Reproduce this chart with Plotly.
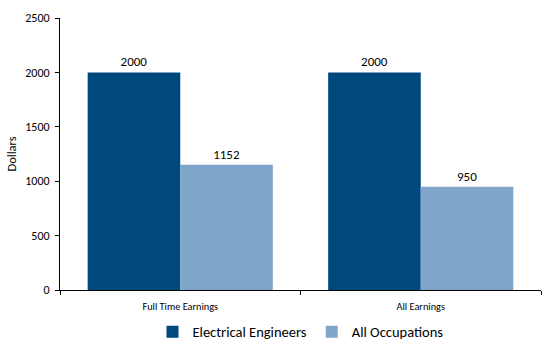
import plotly.graph_objects as go

categories = ["Full Time Earnings", "All Earnings"]
electrical_engineers = [2000, 2000]
all_occupations = [1152, 950]
y_ticks = [0, 500, 1000, 1500, 2000, 2500]

font_family = "Carlito, Calibri, 'Liberation Sans', Arial, sans-serif"

fig = go.Figure()
fig.add_trace(go.Bar(
    x=categories, y=electrical_engineers, name="Electrical Engineers",
    marker=dict(color="#00497E", line=dict(width=0)),
    text=[str(v) for v in electrical_engineers], textposition="outside",
    textfont=dict(size=13, color="#000000", family=font_family), cliponaxis=False,
))
fig.add_trace(go.Bar(
    x=categories, y=all_occupations, name="All Occupations",
    marker=dict(color="#7FA5CA", line=dict(width=0)),
    text=[str(v) for v in all_occupations], textposition="outside",
    textfont=dict(size=13, color="#000000", family=font_family), cliponaxis=False,
))

fig.update_layout(
    width=546, height=355,
    margin=dict(l=60, r=5, t=18, b=65, autoexpand=False),
    paper_bgcolor="white", plot_bgcolor="white",
    barmode="group", bargap=0.23, bargroupgap=0,
    font=dict(family=font_family, size=11, color="#000000"),
    showlegend=True,
    legend=dict(orientation="h", x=0.5, xanchor="center", y=-0.095, yanchor="top",
                font=dict(size=14.5, color="#000000"), itemwidth=30,
                traceorder="normal"),
)
fig.update_xaxes(
    showline=True, linecolor="#000000", linewidth=1,
    ticks="outside", tickson="boundaries", ticklen=4, tickcolor="#000000",
    tickfont=dict(size=10.3), showgrid=False, automargin=False,
    ticklabelstandoff=7,
)
fig.update_yaxes(
    range=[0, 2500], tickvals=y_ticks,
    showline=True, linecolor="#000000", linewidth=1,
    ticks="outside", ticklen=4, tickcolor="#000000",
    tickfont=dict(size=12), showgrid=False, zeroline=False, automargin=False,
    ticklabelstandoff=3,
    title=dict(text="Dollars", font=dict(size=12.5), standoff=5),
)

fig.write_html("out.html", config={"displayModeBar": False},
               post_script="document.body.style.margin='0';")
